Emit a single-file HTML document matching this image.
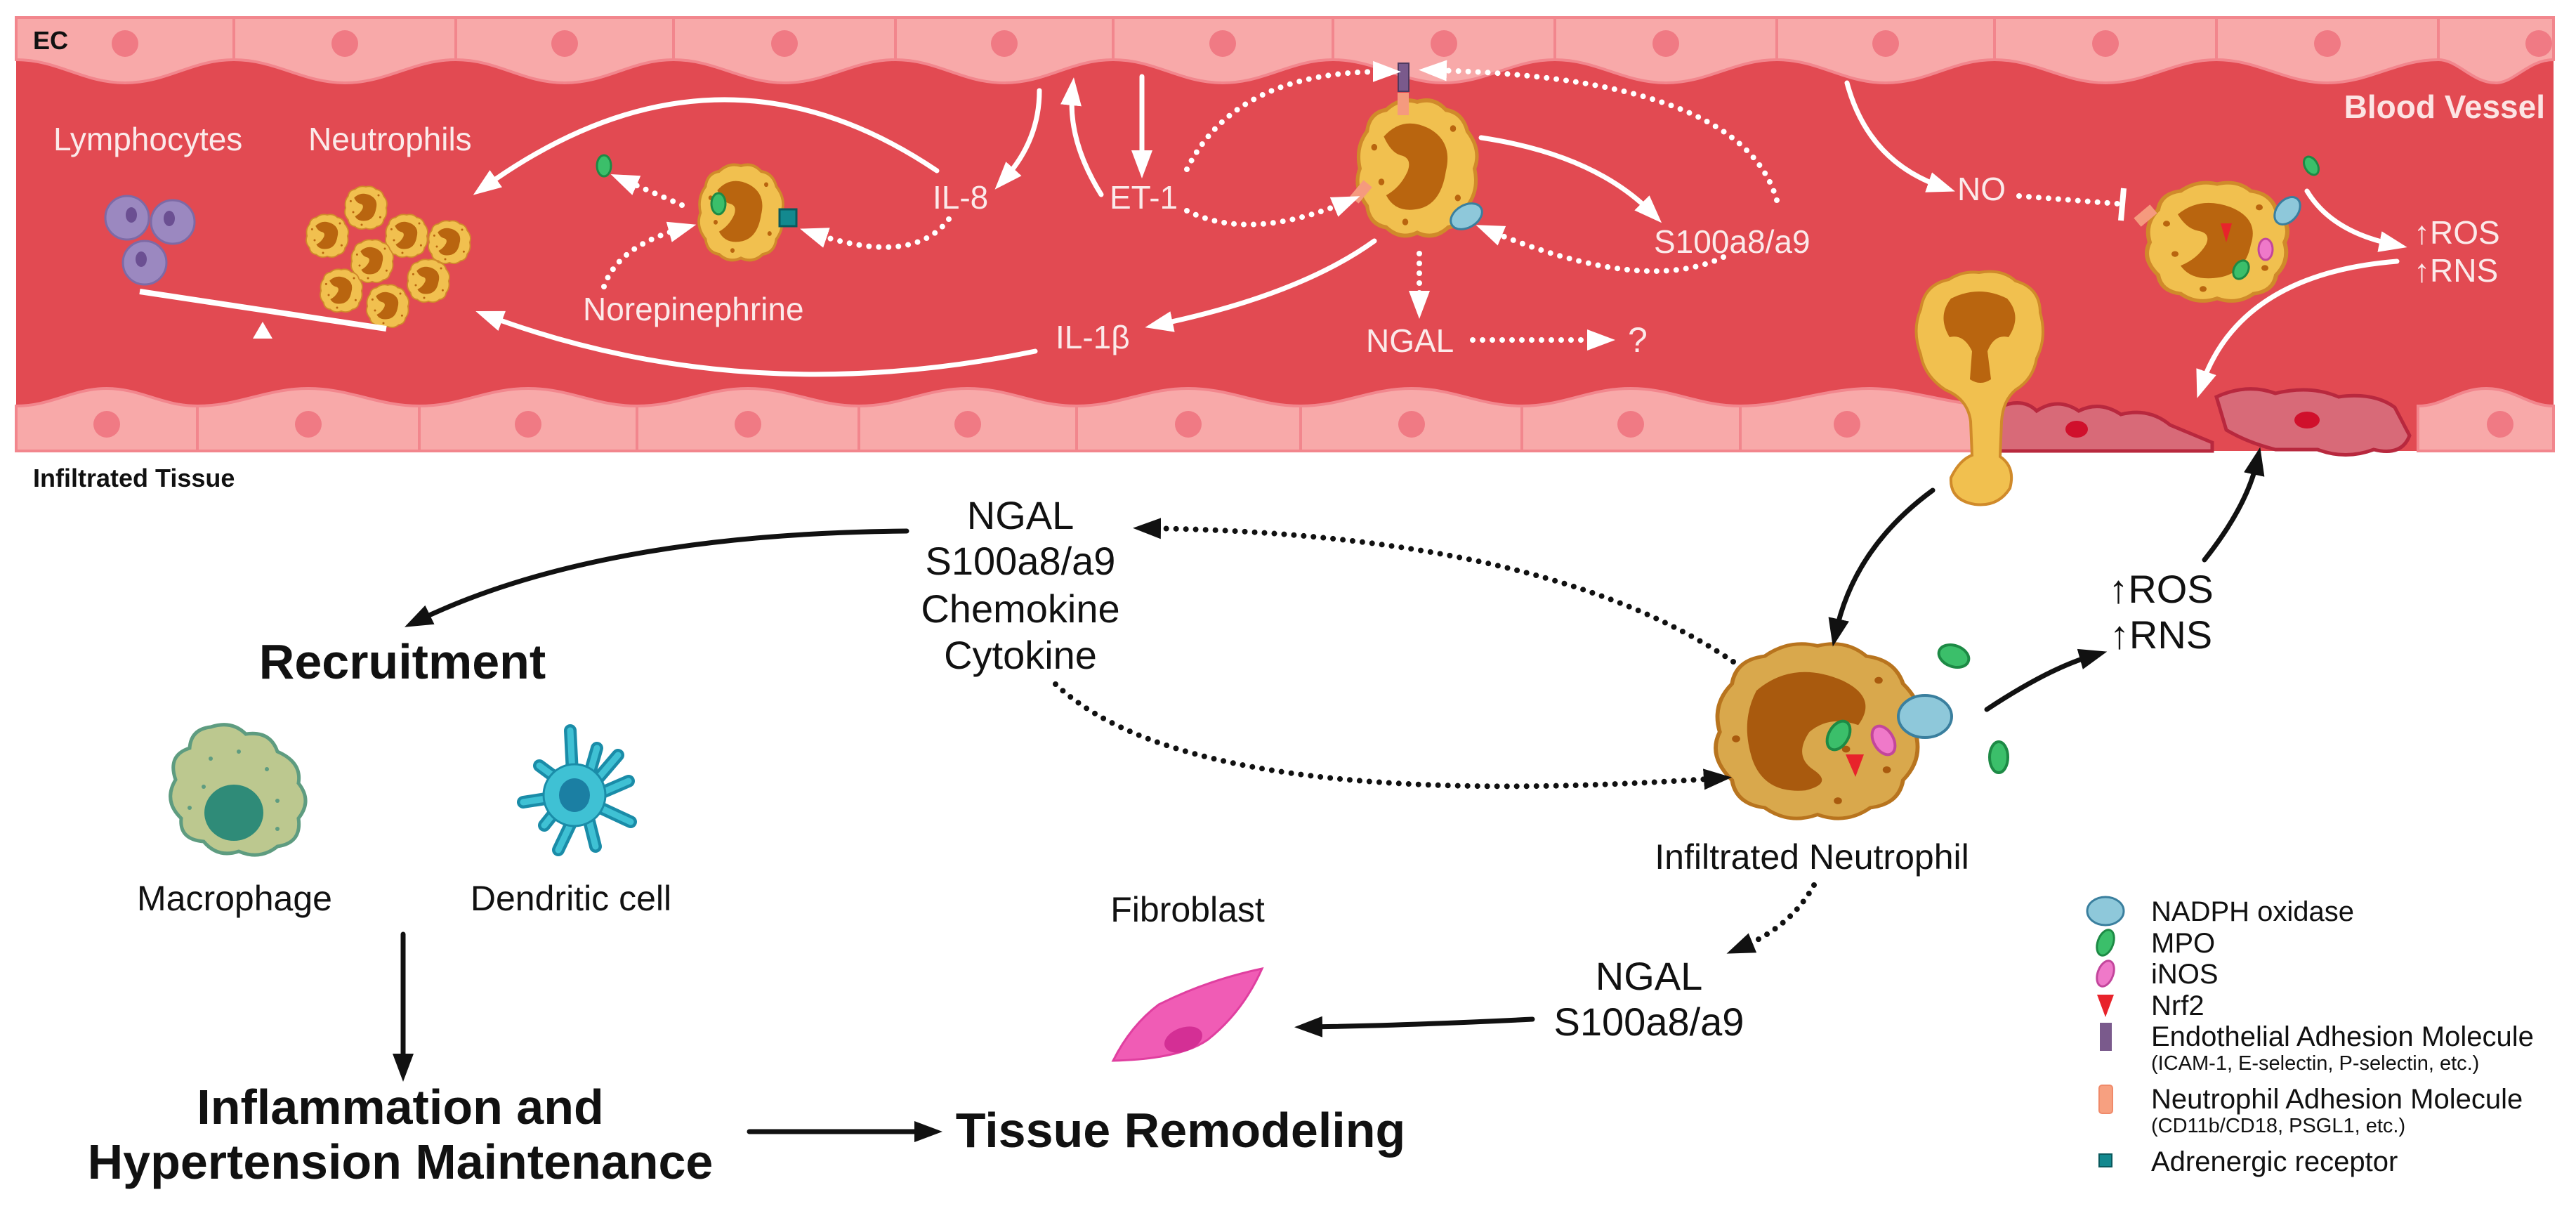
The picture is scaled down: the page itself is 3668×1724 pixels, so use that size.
<!DOCTYPE html>
<html><head><meta charset="utf-8"><style>
html,body{margin:0;padding:0;background:#fff;}
svg{display:block;}
text{font-family:"Liberation Sans",Arial,sans-serif;}
</style></head><body>
<svg width="3668" height="1724" viewBox="0 0 3668 1724" xmlns="http://www.w3.org/2000/svg">
<defs>
<marker id="aw" markerUnits="userSpaceOnUse" markerWidth="40" markerHeight="40" refX="20" refY="15" orient="auto" viewBox="0 0 40 30"><path d="M0,0 L40,15 L0,30 Z" fill="#fff"/></marker>
<marker id="ab" markerUnits="userSpaceOnUse" markerWidth="40" markerHeight="40" refX="20" refY="15" orient="auto" viewBox="0 0 40 30"><path d="M0,0 L40,15 L0,30 Z" fill="#111"/></marker>
<g id="neu">
<path d="M0,-50 Q14,-54 24,-44 Q38,-42 42,-28 Q54,-14 48,0 Q52,16 42,28 Q40,42 26,44 Q14,54 0,48 Q-14,54 -26,44 Q-40,42 -42,28 Q-54,14 -48,0 Q-52,-16 -42,-28 Q-40,-42 -26,-44 Q-14,-54 0,-50Z" fill="#f1c04f" stroke="#d08a2a" stroke-width="3"/>
<path d="M-28,-24 Q-12,-40 10,-30 Q30,-20 24,2 Q20,26 2,30 Q-18,34 -26,20 Q-14,14 -8,2 Q-4,-8 -14,-10 Q-22,-12 -28,-24Z" fill="#b9650f"/>
<circle cx="-30" cy="10" r="2.5" fill="#b9650f"/><circle cx="30" cy="-30" r="2.5" fill="#b9650f"/><circle cx="34" cy="22" r="2.5" fill="#b9650f"/><circle cx="-10" cy="40" r="2.5" fill="#b9650f"/><circle cx="-36" cy="-16" r="2.5" fill="#b9650f"/>
</g>
<g id="neu2">
<path d="M0,-50 Q14,-54 24,-44 Q38,-42 42,-28 Q54,-14 48,0 Q52,16 42,28 Q40,42 26,44 Q14,54 0,48 Q-14,54 -26,44 Q-40,42 -42,28 Q-54,14 -48,0 Q-52,-16 -42,-28 Q-40,-42 -26,-44 Q-14,-54 0,-50Z" fill="#d9a84c" stroke="#b8741e" stroke-width="2"/>
<path d="M-30,-24 Q-12,-42 12,-30 Q30,-20 20,-4 Q6,-10 -4,0 Q-12,14 -2,22 Q8,30 -6,34 Q-26,36 -32,16 Q-38,-6 -30,-24Z" fill="#a95a0e"/>
<circle cx="30" cy="-30" r="2" fill="#a95a0e"/><circle cx="34" cy="22" r="2" fill="#a95a0e"/><circle cx="10" cy="40" r="2" fill="#a95a0e"/><circle cx="-40" cy="4" r="2" fill="#a95a0e"/><circle cx="14" cy="10" r="2" fill="#a95a0e"/>
</g>
</defs>

<rect x="23" y="25" width="3613" height="617" fill="#e24a52"/>
<g fill="#f8a9a9" stroke="#f2868d" stroke-width="4">
<path d="M23,25 H333 V85 C273,85 238,118 178,118 C118,118 83,85 23,85Z"/>
<path d="M333,25 H649 V85 C589,85 551,118 491,118 C431,118 393,85 333,85Z"/>
<path d="M649,25 H959 V85 C899,85 864,118 804,118 C744,118 709,85 649,85Z"/>
<path d="M959,25 H1275 V85 C1215,85 1177,118 1117,118 C1057,118 1019,85 959,85Z"/>
<path d="M1275,25 H1585 V85 C1525,85 1490,118 1430,118 C1370,118 1335,85 1275,85Z"/>
<path d="M1585,25 H1898 V85 C1838,85 1801,118 1741,118 C1681,118 1645,85 1585,85Z"/>
<path d="M1898,25 H2214 V85 C2154,85 2116,118 2056,118 C1996,118 1958,85 1898,85Z"/>
<path d="M2214,25 H2530 V85 C2470,85 2432,118 2372,118 C2312,118 2274,85 2214,85Z"/>
<path d="M2530,25 H2840 V85 C2780,85 2745,118 2685,118 C2625,118 2590,85 2530,85Z"/>
<path d="M2840,25 H3156 V85 C3096,85 3058,118 2998,118 C2938,118 2900,85 2840,85Z"/>
<path d="M3156,25 H3472 V85 C3412,85 3374,118 3314,118 C3254,118 3216,85 3156,85Z"/>
<path d="M3472,25 H3636 V85 C3600,85 3580,118 3554,118 C3520,118 3500,85 3472,85Z"/>
</g>
<g fill="#f07a84">
<circle cx="178" cy="62" r="19"/><circle cx="491" cy="62" r="19"/><circle cx="804" cy="62" r="19"/><circle cx="1117" cy="62" r="19"/><circle cx="1430" cy="62" r="19"/><circle cx="1741" cy="62" r="19"/><circle cx="2056" cy="62" r="19"/><circle cx="2372" cy="62" r="19"/><circle cx="2685" cy="62" r="19"/><circle cx="2998" cy="62" r="19"/><circle cx="3314" cy="62" r="19"/><circle cx="3615" cy="62" r="19"/>
</g>
<g fill="#f8a9a9" stroke="#f2868d" stroke-width="4">
<path d="M23,642 H281 V578 C231,578 200,553 152,553 C104,553 73,578 23,578Z"/>
<path d="M281,642 H597 V578 C537,578 499,553 439,553 C379,553 341,578 281,578Z"/>
<path d="M597,642 H907 V578 C847,578 812,553 752,553 C692,553 657,578 597,578Z"/>
<path d="M907,642 H1223 V578 C1163,578 1125,553 1065,553 C1005,553 967,578 907,578Z"/>
<path d="M1223,642 H1533 V578 C1473,578 1438,553 1378,553 C1318,553 1283,578 1223,578Z"/>
<path d="M1533,642 H1852 V578 C1792,578 1752,553 1692,553 C1632,553 1593,578 1533,578Z"/>
<path d="M1852,642 H2167 V578 C2107,578 2070,553 2010,553 C1950,553 1912,578 1852,578Z"/>
<path d="M2167,642 H2478 V578 C2418,578 2382,553 2322,553 C2262,553 2227,578 2167,578Z"/>
<path d="M2478,642 H2846 V578 C2780,578 2720,553 2662,553 C2600,553 2540,578 2478,578Z"/>
<path d="M3443,642 H3636 V578 C3600,578 3580,553 3540,553 C3500,553 3480,578 3443,578Z"/>
</g>
<g fill="#f07a84">
<circle cx="152" cy="604" r="19"/><circle cx="439" cy="604" r="19"/><circle cx="752" cy="604" r="19"/><circle cx="1065" cy="604" r="19"/><circle cx="1378" cy="604" r="19"/><circle cx="1692" cy="604" r="19"/><circle cx="2010" cy="604" r="19"/><circle cx="2322" cy="604" r="19"/><circle cx="2630" cy="604" r="19"/><circle cx="3560" cy="604" r="19"/>
</g>
<path d="M2846,642 L2846,580 Q2880,565 2900,585 Q2930,565 2960,585 Q2990,570 3020,590 Q3060,580 3090,605 L3150,630 L3150,642Z" fill="#d86a78" stroke="#b8283e" stroke-width="5"/>
<ellipse cx="2957" cy="611" rx="16" ry="12" fill="#d0102c"/>
<path d="M3156,565 Q3200,545 3240,560 Q3290,548 3330,565 Q3380,558 3410,580 L3431,620 Q3420,650 3380,640 Q3340,655 3300,640 L3240,640 Q3200,630 3170,612 Z" fill="#d86a78" stroke="#b8283e" stroke-width="5"/>
<ellipse cx="3285" cy="598" rx="18" ry="12" fill="#d0102c"/>

<text x="47" y="70" font-size="36" font-weight="bold" fill="#111">EC</text>
<text x="3624" y="168" font-size="46" font-weight="bold" fill="#fce4e4" text-anchor="end">Blood Vessel</text>
<g fill="#fbeaea" font-size="46">
<text x="76" y="214">Lymphocytes</text>
<text x="439" y="214">Neutrophils</text>
<text x="1328" y="297">IL-8</text>
<text x="1580" y="297">ET-1</text>
<text x="830" y="456">Norepinephrine</text>
<text x="1503" y="496">IL-1β</text>
<text x="2355" y="360">S100a8/a9</text>
<text x="1945" y="501">NGAL</text>
<text x="2318" y="501" font-size="50">?</text>
<text x="2787" y="285">NO</text>
<text x="3437" y="347">↑ROS</text>
<text x="3437" y="401">↑RNS</text>
</g>

<g fill="#9b88c0" stroke="#7d6aa6" stroke-width="3">
<circle cx="181" cy="310" r="31"/><circle cx="246" cy="316" r="31"/><circle cx="206" cy="374" r="31"/>
</g>
<g fill="#6b4f92"><ellipse cx="187" cy="306" rx="8" ry="11"/><ellipse cx="241" cy="311" rx="8" ry="11"/><ellipse cx="201" cy="369" rx="8" ry="11"/></g>
<use href="#neu" transform="translate(521,296) scale(0.6)"/>
<use href="#neu" transform="translate(466,336) scale(0.6)"/>
<use href="#neu" transform="translate(579,336) scale(0.6)"/>
<use href="#neu" transform="translate(640,345) scale(0.6)"/>
<use href="#neu" transform="translate(530,372) scale(0.6)"/>
<use href="#neu" transform="translate(486,414) scale(0.6)"/>
<use href="#neu" transform="translate(610,400) scale(0.6)"/>
<use href="#neu" transform="translate(552,436) scale(0.6)"/>
<line x1="199" y1="415" x2="550" y2="468" stroke="#fff" stroke-width="8"/>
<path d="M374,458 L360,482 L388,482Z" fill="#fff"/>

<use href="#neu" transform="translate(1055,303) scale(1.2,1.34)"/>
<ellipse cx="1023" cy="290" rx="10" ry="15" fill="#3bbf6a" stroke="#1d8a45" stroke-width="3"/>
<rect x="1110" y="298" width="24" height="24" fill="#13898f" stroke="#0a5a5e" stroke-width="3"/>
<ellipse cx="860" cy="236" rx="10" ry="15" fill="#3bbf6a" stroke="#1d8a45" stroke-width="3"/>

<use href="#neu" transform="translate(2018,240) scale(1.7,1.9)"/>
<rect x="1991" y="90" width="15" height="40" fill="#7a5a8c" stroke="#4e3a60" stroke-width="2"/>
<rect x="1990" y="132" width="16" height="32" fill="#f59a7e"/>
<rect x="1930" y="258" width="16" height="30" fill="#f59a7e" transform="rotate(40 1938 273)"/>
<ellipse cx="2088" cy="308" rx="24" ry="16" fill="#8ec8da" stroke="#3a7f9e" stroke-width="3" transform="rotate(-30 2088 308)"/>

<use href="#neu" transform="translate(3157,345) scale(2.0,1.66)"/>
<rect x="3047" y="292" width="16" height="30" fill="#f59a7e" transform="rotate(50 3055 307)"/>
<ellipse cx="3257" cy="300" rx="22" ry="15" fill="#8ec8da" stroke="#3a7f9e" stroke-width="3" transform="rotate(-50 3257 300)"/>
<path d="M3162,318 L3178,318 L3170,345Z" fill="#e8232b"/>
<ellipse cx="3226" cy="355" rx="10" ry="15" fill="#ef79c9" stroke="#c3469c" stroke-width="3"/>
<ellipse cx="3191" cy="384" rx="10" ry="14" fill="#3bbf6a" stroke="#1d8a45" stroke-width="3" transform="rotate(30 3191 384)"/>
<ellipse cx="3291" cy="236" rx="9" ry="14" fill="#3bbf6a" stroke="#1d8a45" stroke-width="3" transform="rotate(-30 3291 236)"/>

<path d="M2818,388 Q2850,382 2870,400 Q2905,410 2905,445 Q2915,480 2900,510 Q2895,540 2870,555 Q2852,570 2850,600 L2848,650 Q2870,665 2862,695 Q2845,722 2812,718 Q2776,712 2778,680 Q2790,655 2808,648 L2806,600 Q2802,568 2770,555 Q2740,535 2735,505 Q2722,470 2735,440 Q2740,405 2775,398 Q2795,385 2818,388Z" fill="#f1c04f" stroke="#d08a2a" stroke-width="4"/>
<path d="M2778,425 Q2818,405 2858,425 Q2880,450 2860,480 Q2840,475 2830,500 L2835,540 Q2820,550 2805,540 L2808,500 Q2796,475 2776,480 Q2758,450 2778,425Z" fill="#b9650f"/>

<g fill="none" stroke="#fff" stroke-width="7" stroke-linecap="round">
<path d="M1334,243 Q1018,30 690,266" marker-end="url(#aw)"/>
<path d="M1474,500 Q1060,585 696,450" marker-end="url(#aw)"/>
<path d="M1480,129 Q1480,200 1430,255" marker-end="url(#aw)"/>
<path d="M1568,277 Q1520,200 1527,130" marker-end="url(#aw)"/>
<path d="M1626,109 L1626,234" marker-end="url(#aw)"/>
<path d="M2109,196 Q2270,220 2352,303" marker-end="url(#aw)"/>
<path d="M1957,343 Q1850,420 1650,462" marker-end="url(#aw)"/>
<path d="M2630,118 Q2660,230 2765,266" marker-end="url(#aw)"/>
<path d="M3285,272 Q3320,330 3408,348" marker-end="url(#aw)"/>
<path d="M3413,372 Q3190,390 3135,548" marker-end="url(#aw)"/>
</g>
<g fill="none" stroke="#fff" stroke-width="8" stroke-linecap="round" stroke-dasharray="0 14">
<path d="M1351,312 Q1300,380 1158,332" marker-end="url(#aw)"/>
<path d="M971,292 L888,256" marker-end="url(#aw)"/>
<path d="M860,408 Q880,350 972,325" marker-end="url(#aw)"/>
<path d="M1690,300 Q1780,345 1918,287" marker-end="url(#aw)"/>
<path d="M1690,241 Q1760,100 1975,102" marker-end="url(#aw)"/>
<path d="M2530,285 Q2480,110 2040,100" marker-end="url(#aw)"/>
<path d="M2454,366 Q2340,420 2120,328" marker-end="url(#aw)"/>
<path d="M2021,361 L2021,434" marker-end="url(#aw)"/>
<path d="M2097,484 L2280,484" marker-end="url(#aw)"/>
<path d="M2875,279 L3015,290"/>
</g>
<line x1="3024" y1="268" x2="3020" y2="314" stroke="#fff" stroke-width="8"/>

<text x="47" y="693" font-size="36" font-weight="bold" fill="#111">Infiltrated Tissue</text>
<g font-size="56" fill="#111" text-anchor="middle">
<text x="1453" y="753">NGAL</text>
<text x="1453" y="818">S100a8/a9</text>
<text x="1453" y="886">Chemokine</text>
<text x="1453" y="952">Cytokine</text>
<text x="2348" y="1409">NGAL</text>
<text x="2348" y="1474">S100a8/a9</text>
<text x="3077" y="858">↑ROS</text>
<text x="3077" y="923">↑RNS</text>
</g>
<g font-size="50" fill="#111" text-anchor="middle">
<text x="334" y="1296">Macrophage</text>
<text x="813" y="1296">Dendritic cell</text>
<text x="1691" y="1312">Fibroblast</text>
<text x="2580" y="1237">Infiltrated Neutrophil</text>
</g>
<g font-size="70" font-weight="bold" fill="#111" text-anchor="middle">
<text x="573" y="966">Recruitment</text>
<text x="570" y="1600">Inflammation and</text>
<text x="570" y="1678">Hypertension Maintenance</text>
<text x="1681" y="1633">Tissue Remodeling</text>
</g>

<path d="M300,1035 Q330,1025 350,1045 Q385,1040 395,1070 Q430,1085 425,1115 Q445,1140 425,1165 Q430,1200 395,1205 Q370,1225 340,1212 Q310,1222 290,1198 Q255,1195 258,1165 Q232,1140 250,1110 Q238,1075 270,1065 Q272,1038 300,1035Z" fill="#bcc88f" stroke="#5e9c80" stroke-width="5"/>
<ellipse cx="333" cy="1157" rx="42" ry="40" fill="#2f8b78"/>
<g fill="#5e9c80"><circle cx="300" cy="1080" r="3"/><circle cx="340" cy="1070" r="3"/><circle cx="380" cy="1095" r="3"/><circle cx="290" cy="1120" r="3"/><circle cx="395" cy="1140" r="3"/><circle cx="270" cy="1150" r="3"/><circle cx="395" cy="1180" r="3"/></g>
<g stroke="#1a8ca8" stroke-width="18" stroke-linecap="round" fill="none">
<path d="M815,1100 L812,1040"/><path d="M840,1100 L850,1065"/><path d="M850,1110 L880,1075"/><path d="M858,1128 L895,1112"/><path d="M855,1150 L898,1170"/><path d="M838,1165 L848,1205"/><path d="M815,1168 L795,1210"/><path d="M795,1150 L775,1175"/><path d="M790,1135 L745,1142"/><path d="M795,1110 L768,1090"/>
</g>
<g stroke="#3fc1d4" stroke-width="9" stroke-linecap="round" fill="none">
<path d="M815,1100 L812,1040"/><path d="M840,1100 L850,1065"/><path d="M850,1110 L880,1075"/><path d="M858,1128 L895,1112"/><path d="M855,1150 L898,1170"/><path d="M838,1165 L848,1205"/><path d="M815,1168 L795,1210"/><path d="M795,1150 L775,1175"/><path d="M790,1135 L745,1142"/><path d="M795,1110 L768,1090"/>
</g>
<circle cx="818" cy="1132" r="44" fill="#3fc1d4" stroke="#1a8ca8" stroke-width="3"/>
<ellipse cx="818" cy="1132" rx="22" ry="24" fill="#1b7fa3"/>
<path d="M1585,1510 Q1610,1460 1650,1430 Q1720,1395 1797,1379 Q1770,1440 1720,1480 Q1680,1508 1585,1510Z" fill="#f05cb5" stroke="#e03fa0" stroke-width="3"/>
<ellipse cx="1685" cy="1480" rx="28" ry="17" fill="#d42f95" transform="rotate(-20 1685 1480)"/>

<use href="#neu2" transform="translate(2588,1042) scale(2.9,2.45)"/>
<ellipse cx="2741" cy="1020" rx="38" ry="30" fill="#8ec8da" stroke="#3a7f9e" stroke-width="4"/>
<ellipse cx="2618" cy="1047" rx="14" ry="22" fill="#3bbf6a" stroke="#1d8a45" stroke-width="4" transform="rotate(30 2618 1047)"/>
<ellipse cx="2682" cy="1054" rx="14" ry="22" fill="#ef79c9" stroke="#c3469c" stroke-width="4" transform="rotate(-30 2682 1054)"/>
<path d="M2628,1074 L2654,1074 L2642,1106Z" fill="#e8232b"/>
<ellipse cx="2782" cy="934" rx="22" ry="15" fill="#3bbf6a" stroke="#1d8a45" stroke-width="4" transform="rotate(20 2782 934)"/>
<ellipse cx="2846" cy="1078" rx="13" ry="22" fill="#3bbf6a" stroke="#1d8a45" stroke-width="4"/>

<g fill="none" stroke="#111" stroke-width="7" stroke-linecap="round">
<path d="M1291,756 Q850,760 594,884" marker-end="url(#ab)"/>
<path d="M574,1330 L574,1520" marker-end="url(#ab)"/>
<path d="M1067,1611 L1322,1611" marker-end="url(#ab)"/>
<path d="M2182,1451 Q2000,1460 1863,1462" marker-end="url(#ab)"/>
<path d="M2752,698 Q2640,780 2614,901" marker-end="url(#ab)"/>
<path d="M2829,1010 Q2920,950 2981,933" marker-end="url(#ab)"/>
<path d="M3139,797 Q3200,720 3214,656" marker-end="url(#ab)"/>
</g>
<g fill="none" stroke="#111" stroke-width="8" stroke-linecap="round" stroke-dasharray="0 14">
<path d="M2583,1260 Q2550,1320 2477,1350" marker-end="url(#ab)"/>
<path d="M2468,942 Q2200,760 1633,752" marker-end="url(#ab)"/>
<path d="M1503,974 Q1700,1160 2446,1108" marker-end="url(#ab)"/>
</g>

<ellipse cx="2998" cy="1297" rx="26" ry="20" fill="#8ec8da" stroke="#3a7f9e" stroke-width="3"/>
<ellipse cx="2998" cy="1342" rx="11" ry="19" fill="#3bbf6a" stroke="#1d8a45" stroke-width="3" transform="rotate(20 2998 1342)"/>
<ellipse cx="2998" cy="1386" rx="11" ry="19" fill="#ef79c9" stroke="#c3469c" stroke-width="3" transform="rotate(20 2998 1386)"/>
<path d="M2986,1416 L3010,1416 L2998,1448Z" fill="#e8232b"/>
<rect x="2990" y="1456" width="17" height="40" fill="#7a5a8c"/>
<rect x="2989" y="1545" width="19" height="40" rx="4" fill="#f7a080" stroke="#f08a6a" stroke-width="2"/>
<rect x="2989" y="1643" width="18" height="18" fill="#13898f" stroke="#0a5a5e" stroke-width="2"/>
<g font-size="40" fill="#111">
<text x="3063" y="1311">NADPH oxidase</text>
<text x="3063" y="1356">MPO</text>
<text x="3063" y="1400">iNOS</text>
<text x="3063" y="1445">Nrf2</text>
<text x="3063" y="1489">Endothelial Adhesion Molecule</text>
<text x="3063" y="1523" font-size="29">(ICAM-1, E-selectin, P-selectin, etc.)</text>
<text x="3063" y="1578">Neutrophil Adhesion Molecule</text>
<text x="3063" y="1612" font-size="29">(CD11b/CD18, PSGL1, etc.)</text>
<text x="3063" y="1667">Adrenergic receptor</text>
</g>
</svg>
</body></html>
